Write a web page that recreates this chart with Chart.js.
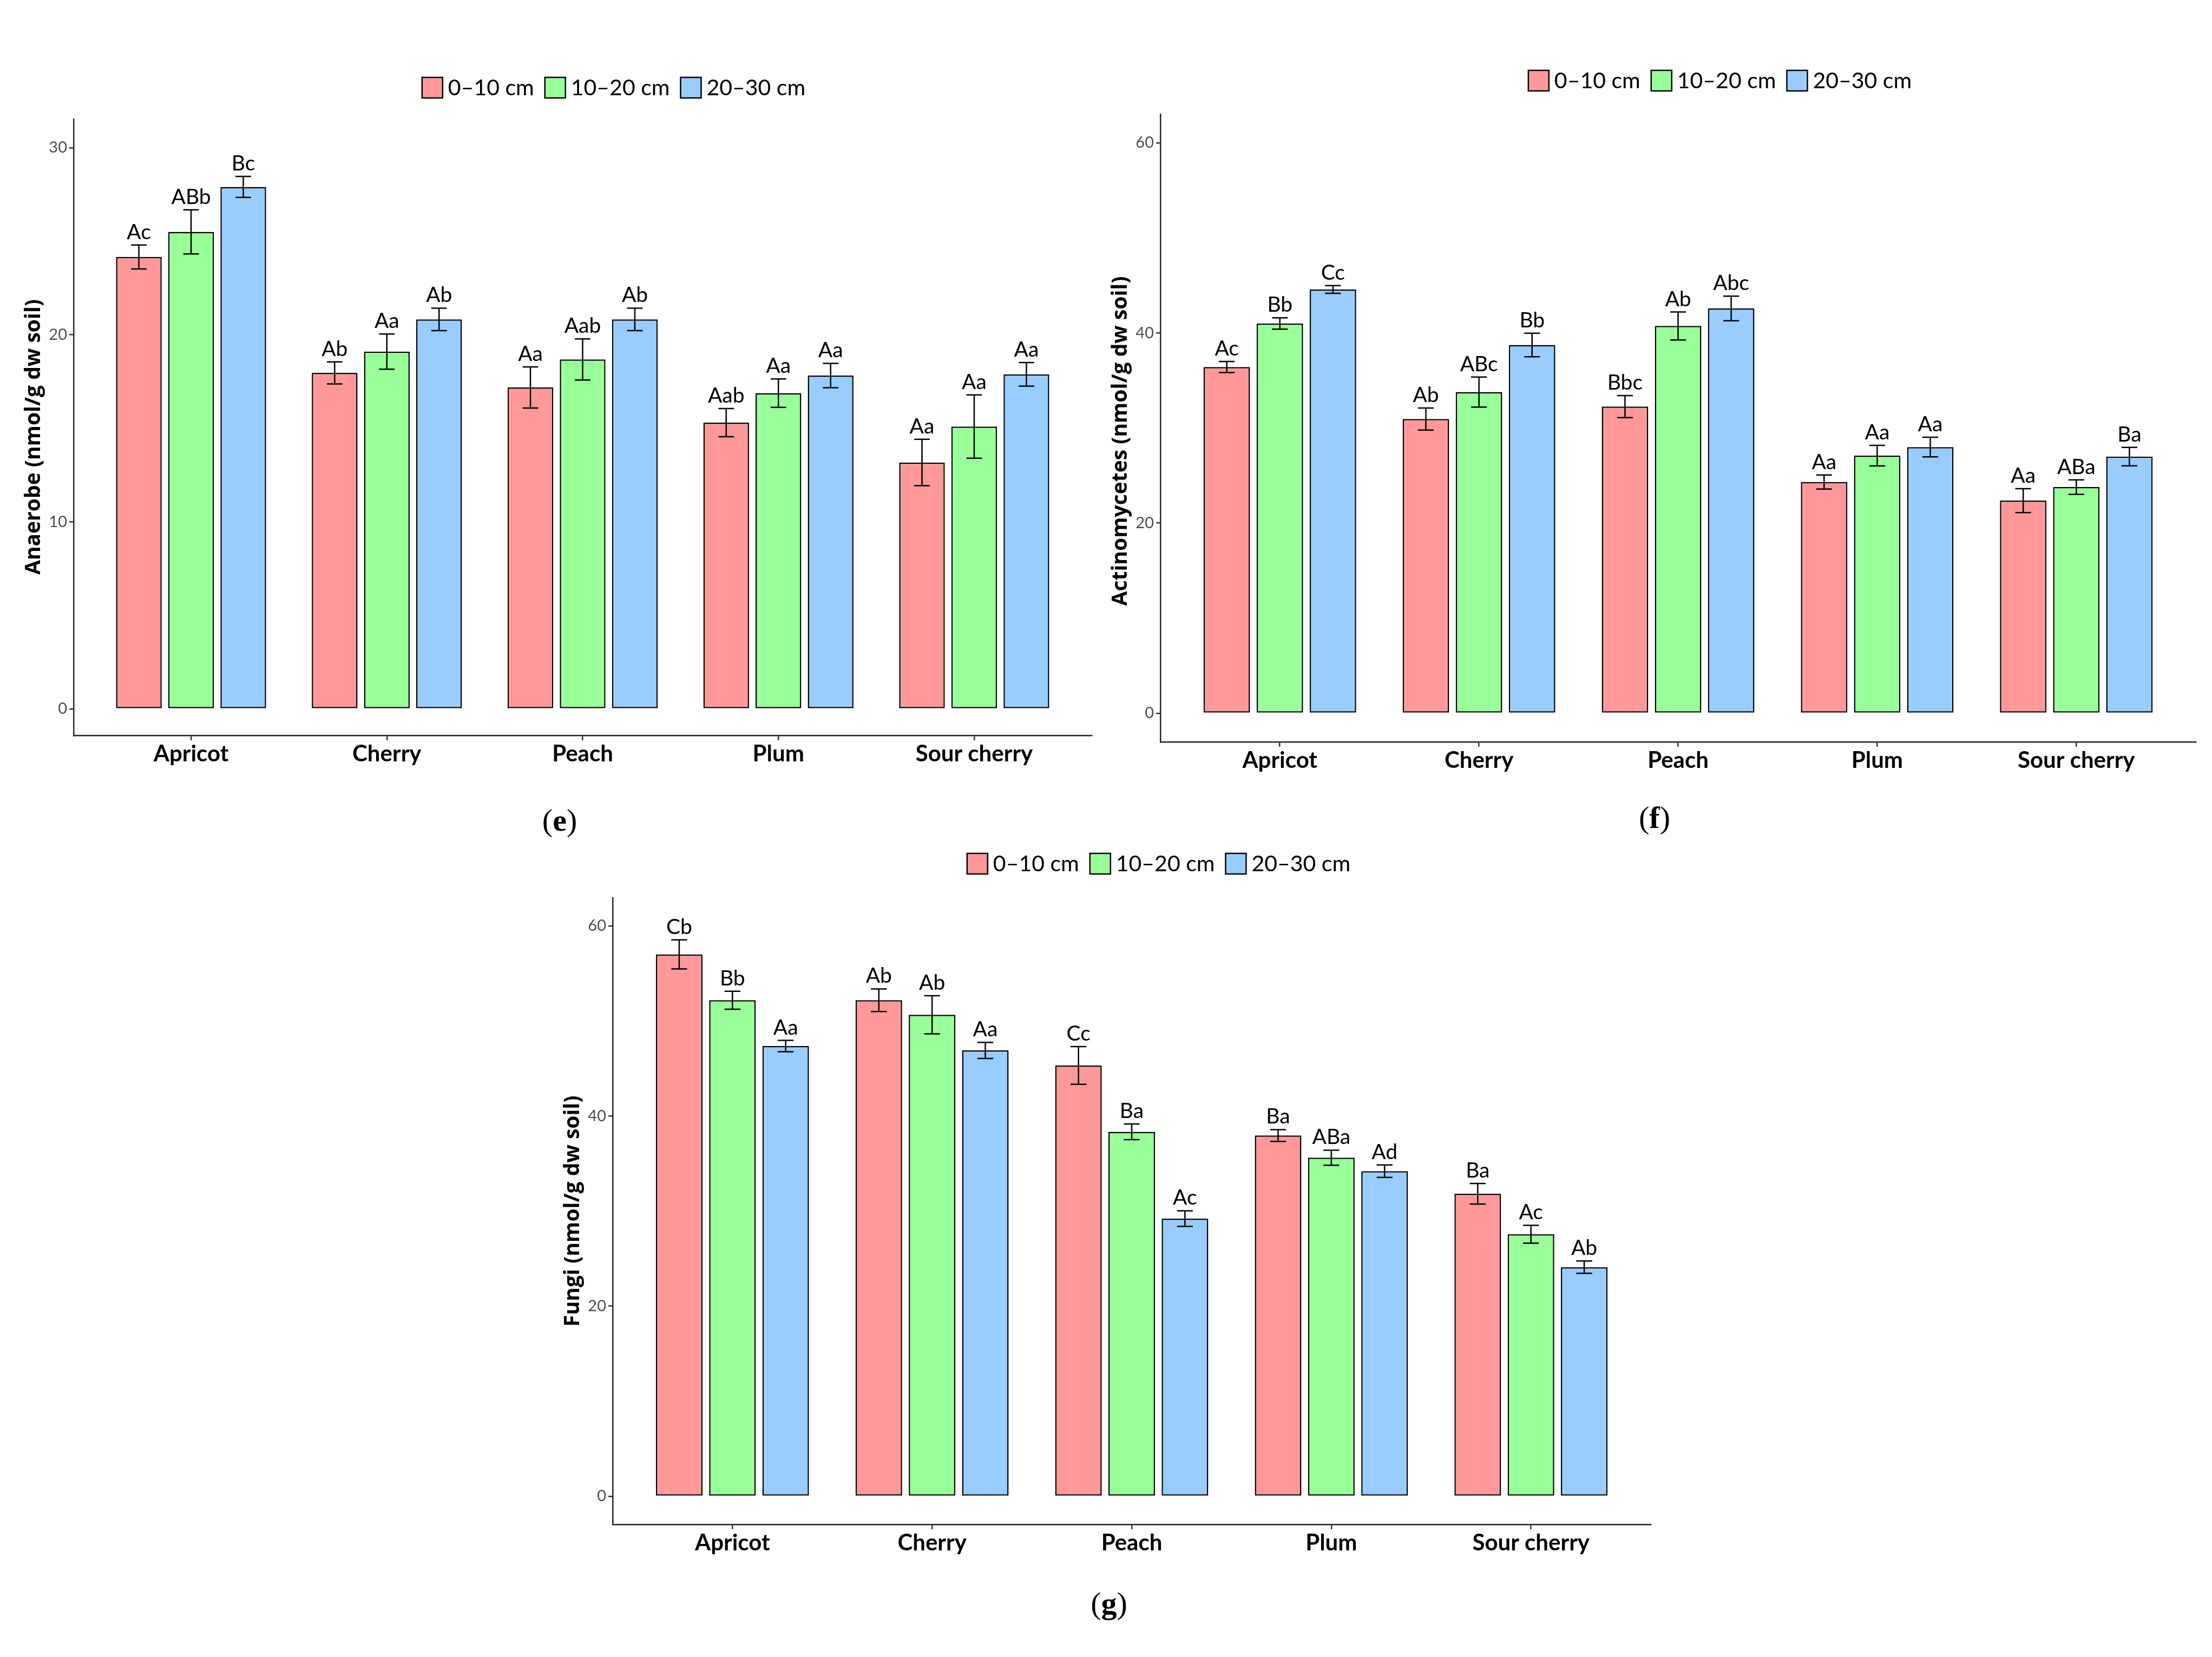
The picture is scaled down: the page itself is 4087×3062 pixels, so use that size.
<!DOCTYPE html>
<html>
<head>
<meta charset="utf-8">
<script src="https://cdn.jsdelivr.net/npm/chart.js@4.4.1/dist/chart.umd.min.js"></script>
<style>
  body { margin: 0; background: #fff; }
  #page { position: relative; width: 4087px; height: 3062px; overflow: hidden; background: #fff; }
  canvas { position: absolute; }
  .cap { position: absolute; font-family: "Liberation Serif", serif; font-size: 58px; transform: translate(-50%, -50%); color: #000; }
</style>
</head>
<body>
<div id="page">
  <canvas id="chartE"></canvas>
  <canvas id="chartF"></canvas>
  <canvas id="chartG"></canvas>
  <div class="cap" style="left:1034px;top:1515px">(<b>e</b>)</div>
  <div class="cap" style="left:3057px;top:1510px">(<b>f</b>)</div>
  <div class="cap" style="left:2049px;top:2962px">(<b>g</b>)</div>
</div>
<script>
const categories = ['Apricot', 'Cherry', 'Peach', 'Plum', 'Sour cherry'];
const depths = ['0–10 cm', '10–20 cm', '20–30 cm'];
const colors = ['#FF9999', '#99FF99', '#99CCFF'];

// (e) anaerobe
const anaerobe010 = [24.16, 17.96, 17.18, 15.30, 13.17];
const anaerobe1020 = [25.50, 19.10, 18.68, 16.88, 15.09];
const anaerobe2030 = [27.90, 20.82, 20.82, 17.82, 17.88];
const anaerobeSe010 = [0.64, 0.59, 1.10, 0.75, 1.24];
const anaerobeSe1020 = [1.18, 0.94, 1.10, 0.76, 1.69];
const anaerobeSe2030 = [0.56, 0.60, 0.60, 0.65, 0.63];
const anaerobeLet010 = ['Ac', 'Ab', 'Aa', 'Aab', 'Aa'];
const anaerobeLet1020 = ['ABb', 'Aa', 'Aab', 'Aa', 'Aa'];
const anaerobeLet2030 = ['Bc', 'Ab', 'Ab', 'Aa', 'Aa'];
const anaerobeTicks = [0, 10, 20, 30];

// (f) actinomycetes
const actino010 = [36.42, 30.95, 32.26, 24.32, 22.37];
const actino1020 = [41.00, 33.79, 40.74, 27.10, 23.79];
const actino2030 = [44.58, 38.74, 42.58, 28.00, 27.00];
const actinoSe010 = [0.58, 1.16, 1.16, 0.74, 1.26];
const actinoSe1020 = [0.60, 1.58, 1.47, 1.08, 0.76];
const actinoSe2030 = [0.40, 1.24, 1.29, 1.03, 0.97];
const actinoLet010 = ['Ac', 'Ab', 'Bbc', 'Aa', 'Aa'];
const actinoLet1020 = ['Bb', 'ABc', 'Ab', 'Aa', 'ABa'];
const actinoLet2030 = ['Cc', 'Bb', 'Abc', 'Aa', 'Ba'];
const actinoTicks = [0, 20, 40, 60];

// (g) fungi
const fungi010 = [57.00, 52.18, 45.32, 37.95, 31.82];
const fungi1020 = [52.18, 50.65, 38.34, 35.62, 27.57];
const fungi2030 = [47.36, 46.90, 29.21, 34.20, 24.10];
const fungiSe010 = [1.53, 1.19, 1.98, 0.62, 1.08];
const fungiSe1020 = [0.94, 2.00, 0.82, 0.79, 0.94];
const fungiSe2030 = [0.60, 0.85, 0.82, 0.65, 0.65];
const fungiLet010 = ['Cb', 'Ab', 'Cc', 'Ba', 'Ba'];
const fungiLet1020 = ['Bb', 'Ab', 'Ba', 'ABa', 'Ac'];
const fungiLet2030 = ['Aa', 'Aa', 'Ac', 'Ad', 'Ab'];
const fungiTicks = [0, 20, 40, 60];

// ggplot style discrete axis: 0.6 category of space at each end
const xExpand = {
  id: 'xExpand',
  afterLayout(chart) {
    const s = chart.scales.x;
    s._startValue = -0.6;
    s._valueRange = s.getLabels().length + 0.2;
  }
};

// error bars + letters on top of each bar
const errorBars = {
  id: 'errorBars',
  afterDatasetsDraw(chart) {
    const ctx = chart.ctx;
    const y = chart.scales.y;
    ctx.save();
    chart.data.datasets.forEach((ds, i) => {
      chart.getDatasetMeta(i).data.forEach((bar, j) => {
        const top = y.getPixelForValue(ds.data[j] + ds.se[j]);
        const bot = y.getPixelForValue(ds.data[j] - ds.se[j]);
        const half = bar.width * 0.17;
        ctx.strokeStyle = '#000';
        ctx.lineWidth = 2.5;
        ctx.beginPath();
        ctx.moveTo(bar.x, top); ctx.lineTo(bar.x, bot);
        ctx.moveTo(bar.x - half, top); ctx.lineTo(bar.x + half, top);
        ctx.moveTo(bar.x - half, bot); ctx.lineTo(bar.x + half, bot);
        ctx.stroke();
        ctx.fillStyle = '#000';
        ctx.font = '39px Lato';
        ctx.textAlign = 'center';
        ctx.textBaseline = 'alphabetic';
        ctx.fillText(ds.letters[j], bar.x, top - 11);
      });
    });
    ctx.restore();
  }
};

// y title, legend with bordered boxes
const panelText = {
  id: 'panelText',
  afterDraw(chart, args, opts) {
    const ctx = chart.ctx;
    const area = chart.chartArea;
    ctx.save();
    // y axis title
    ctx.translate(area.left - 73, (area.top + area.bottom) / 2 + opts.titleShift);
    ctx.rotate(-Math.PI / 2);
    ctx.font = 'bold 39px "Open Sans"';
    ctx.fillStyle = '#000';
    ctx.textAlign = 'center';
    ctx.textBaseline = 'middle';
    ctx.fillText(opts.yTitle, 0, 0);
    ctx.restore();

    ctx.save();
    ctx.font = '41px Lato';
    const box = 38, gapText = 10, gapItem = 20;
    const items = chart.data.datasets.map(ds => ({ text: ds.label, color: ds.backgroundColor, w: ctx.measureText(ds.label).width }));
    let total = 0;
    items.forEach((it, k) => { total += box + gapText + it.w + (k < items.length - 1 ? gapItem : 0); });
    let x = opts.cx - total / 2;
    items.forEach(it => {
      ctx.fillStyle = it.color;
      ctx.fillRect(x, opts.cy - box / 2, box, box);
      ctx.strokeStyle = '#000';
      ctx.lineWidth = 2.5;
      ctx.strokeRect(x, opts.cy - box / 2, box, box);
      ctx.fillStyle = '#000';
      ctx.textAlign = 'left';
      ctx.textBaseline = 'middle';
      ctx.fillText(it.text, x + box + gapText, opts.cy + 1);
      x += box + gapText + it.w + gapItem;
    });
    ctx.restore();
  }
};

function makeDatasets(values, errs, lets) {
  return depths.map((d, k) => ({
    label: d,
    data: values[k],
    se: errs[k],
    letters: lets[k],
    backgroundColor: colors[k],
    borderColor: '#000',
    borderWidth: 2.5,
    borderSkipped: false,
    categoryPercentage: 0.8,
    barPercentage: 0.875
  }));
}

function buildChart(id, spec) {
  const cv = document.getElementById(id);
  cv.width = spec.w; cv.height = spec.h;
  cv.style.left = spec.left + 'px';
  cv.style.top = spec.top + 'px';
  const yAxisW = 136, xAxisH = 110;
  return new Chart(cv, {
    type: 'bar',
    data: { labels: categories, datasets: spec.datasets },
    options: {
      responsive: false,
      animation: false,
      devicePixelRatio: 1,
      layout: { padding: { top: spec.padTop, right: spec.padRight, left: 0, bottom: 0 } },
      plugins: {
        legend: { display: false },
        tooltip: { enabled: false },
        panelText: { cx: spec.legendX, cy: spec.legendY, yTitle: spec.yTitle, titleShift: spec.titleShift }
      },
      scales: {
        x: {
          afterFit: s => { s.height = xAxisH; },
          grid: { drawOnChartArea: false, offset: false, drawTicks: true, tickLength: 9, color: '#333', lineWidth: 2.5 },
          border: { display: true, color: '#222', width: 2.5 },
          ticks: { font: { family: 'Lato', size: 42, weight: 'bold' }, color: '#000', padding: 0 }
        },
        y: {
          min: spec.yMin,
          max: spec.yMax,
          afterBuildTicks: s => { s.ticks = spec.ticks.map(v => ({ value: v })); },
          afterFit: s => { s.width = yAxisW; },
          grid: { drawOnChartArea: false, drawTicks: true, tickLength: 8, color: '#333', lineWidth: 2.5 },
          border: { display: true, color: '#222', width: 2.5 },
          ticks: { font: { family: 'Lato', size: 29 }, color: '#4d4d4d', padding: 4 }
        }
      }
    },
    plugins: [xExpand, errorBars, panelText]
  });
}

buildChart('chartE', {
  left: 0, top: 100, w: 2057, h: 1369, padTop: 120, padRight: 40,
  legendX: 1134, legendY: 62, titleShift: 18,
  yMin: -1.42, yMax: 31.53, ticks: anaerobeTicks,
  yTitle: 'Anaerobe (nmol/g dw soil)',
  datasets: makeDatasets([anaerobe010, anaerobe1020, anaerobe2030],
    [anaerobeSe010, anaerobeSe1020, anaerobeSe2030],
    [anaerobeLet010, anaerobeLet1020, anaerobeLet2030])
});

buildChart('chartF', {
  left: 2008, top: 100, w: 2079, h: 1381, padTop: 111, padRight: 30,
  legendX: 1170, legendY: 49, titleShift: 24,
  yMin: -3.02, yMax: 63.02, ticks: actinoTicks,
  yTitle: 'Actinomycetes (nmol/g dw soil)',
  datasets: makeDatasets([actino010, actino1020, actino2030],
    [actinoSe010, actinoSe1020, actinoSe2030],
    [actinoLet010, actinoLet1020, actinoLet2030])
});

buildChart('chartG', {
  left: 996, top: 1500, w: 2094, h: 1427, padTop: 159, padRight: 40,
  legendX: 1145, legendY: 96, titleShift: 0,
  yMin: -2.96, yMax: 62.96, ticks: fungiTicks,
  yTitle: 'Fungi (nmol/g dw soil)',
  datasets: makeDatasets([fungi010, fungi1020, fungi2030],
    [fungiSe010, fungiSe1020, fungiSe2030],
    [fungiLet010, fungiLet1020, fungiLet2030])
});
</script>
</body>
</html>
